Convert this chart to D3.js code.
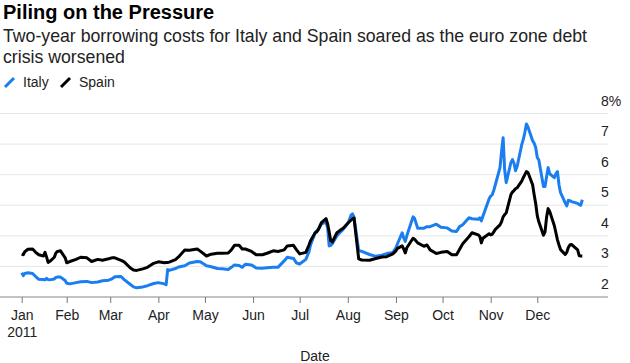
<!DOCTYPE html>
<html>

<head>
    <meta charset="utf-8">
    <script src="https://cdnjs.cloudflare.com/ajax/libs/d3/7.8.5/d3.min.js"></script>
    <style>
        body {
            margin: 0;
            font-family: "Liberation Sans", Arial, Helvetica, sans-serif;
            background: #fff;
        }

        .title {
            font-weight: bold;
            font-size: 20px;
            fill: #000;
        }

        .subtitle {
            font-size: 17.7px;
            fill: #222;
        }

        .legend text,
        .tick text,
        .ylabel {
            font-size: 14px;
            fill: #222;
        }

        .grid {
            stroke: #e6e6e6;
            stroke-width: 1;
        }
    </style>
</head>

<body>
    <svg id="chart" width="630" height="363"></svg>
    <script>
        // trading days (2011)
        let dates = [
            "01-03", "01-04", "01-05", "01-07", "01-10", "01-12", "01-14", "01-17", "01-18", "01-19",
            "01-20", "01-21", "01-24", "01-25", "01-26", "01-28", "01-31", "02-01", "02-03", "02-07",
            "02-10", "02-14", "02-17", "02-21", "02-24", "02-28", "03-02", "03-04", "03-08", "03-10",
            "03-14", "03-16", "03-18", "03-22", "03-25", "03-29", "04-01", "04-05", "04-06", "04-07",
            "04-08", "04-12", "04-14", "04-18", "04-21", "04-26", "04-28", "05-02", "05-05", "05-09",
            "05-12", "05-16", "05-18", "05-20", "05-23", "05-25", "05-27", "05-31", "06-03", "06-07",
            "06-10", "06-14", "06-17", "06-21", "06-23", "06-27", "06-29", "07-01", "07-05", "07-07",
            "07-08", "07-11", "07-12", "07-13", "07-15", "07-18", "07-19", "07-20", "07-21", "07-22",
            "07-25", "07-27", "07-29", "08-01", "08-02", "08-03", "08-04", "08-05", "08-08", "08-10",
            "08-15", "08-19", "08-23", "08-26", "08-30", "09-01", "09-02", "09-05", "09-06", "09-07",
            "09-08", "09-12", "09-13", "09-15", "09-19", "09-21", "09-23", "09-27", "09-30", "10-04",
            "10-07", "10-10", "10-12", "10-14", "10-18", "10-20", "10-24", "10-25", "10-26", "10-27",
            "10-31", "11-01", "11-02", "11-03", "11-04", "11-07", "11-08", "11-09", "11-10", "11-11",
            "11-14", "11-15", "11-16", "11-17", "11-18", "11-21", "11-22", "11-23", "11-24", "11-25",
            "11-28", "11-29", "11-30", "12-01", "12-02", "12-05", "12-06", "12-07", "12-08", "12-09",
            "12-12", "12-13", "12-14", "12-15", "12-16", "12-19", "12-20", "12-21", "12-22", "12-23",
            "12-27", "12-28", "12-29", "12-30"
        ];

        let italy = [
            2.79, 2.70, 2.77, 2.79, 2.77, 2.67, 2.58, 2.57, 2.56, 2.61,
            2.57, 2.56, 2.59, 2.64, 2.65, 2.65, 2.54, 2.45, 2.43, 2.47,
            2.50, 2.51, 2.47, 2.49, 2.53, 2.55, 2.59, 2.66, 2.67, 2.57,
            2.41, 2.33, 2.30, 2.33, 2.37, 2.44, 2.47, 2.43, 2.40, 2.90,
            2.87, 2.93, 2.98, 3.02, 3.11, 3.16, 3.15, 3.02, 2.99, 2.93,
            2.92, 2.90, 2.97, 3.05, 3.03, 2.97, 3.07, 3.05, 2.95, 2.94,
            2.96, 2.97, 2.97, 3.18, 3.30, 3.26, 3.11, 3.08, 3.23, 3.48,
            3.70, 4.11, 4.16, 4.21, 4.39, 4.44, 4.26, 3.67, 3.69, 3.74,
            4.00, 4.11, 4.21, 4.41, 4.52, 4.67, 4.72, 4.61, 3.52, 3.49,
            3.39, 3.33, 3.37, 3.42, 3.46, 3.61, 3.74, 4.10, 3.93, 3.82,
            4.00, 4.62, 4.57, 4.25, 4.25, 4.30, 4.30, 4.38, 4.28, 4.26,
            4.16, 4.14, 4.30, 4.36, 4.59, 4.56, 4.54, 4.59, 4.49, 4.64,
            5.21, 5.30, 5.34, 5.49, 5.67, 6.23, 6.75, 7.21, 6.16, 5.74,
            6.39, 6.49, 6.38, 6.13, 6.26, 6.98, 7.15, 7.38, 7.66, 7.56,
            7.11, 7.03, 6.89, 6.56, 6.48, 5.61, 5.61, 5.93, 6.23, 6.03,
            5.90, 6.03, 6.10, 5.67, 5.41, 5.08, 4.98, 5.16, 5.15, 5.12,
            5.06, 5.02, 5.00, 5.18
        ];

        let spain = [
            3.41, 3.38, 3.48, 3.56, 3.57, 3.46, 3.38, 3.34, 3.46, 3.31,
            3.13, 3.16, 3.30, 3.44, 3.49, 3.51, 3.28, 3.12, 3.16, 3.23,
            3.30, 3.28, 3.16, 3.23, 3.20, 3.25, 3.28, 3.28, 3.20, 3.15,
            2.95, 2.88, 2.87, 2.92, 2.97, 3.10, 3.15, 3.12, 3.13, 3.13,
            3.14, 3.22, 3.31, 3.54, 3.53, 3.57, 3.50, 3.34, 3.40, 3.43,
            3.43, 3.44, 3.54, 3.69, 3.69, 3.57, 3.57, 3.49, 3.38, 3.38,
            3.43, 3.51, 3.49, 3.54, 3.67, 3.69, 3.54, 3.41, 3.46, 3.70,
            3.84, 4.10, 4.13, 4.20, 4.43, 4.56, 4.39, 4.13, 3.84, 3.80,
            4.10, 4.18, 4.25, 4.41, 4.46, 4.51, 4.56, 4.58, 3.25, 3.21,
            3.20, 3.26, 3.31, 3.32, 3.41, 3.51, 3.59, 3.67, 3.57, 3.44,
            3.61, 3.92, 3.89, 3.77, 3.66, 3.70, 3.54, 3.42, 3.46, 3.49,
            3.38, 3.38, 3.56, 3.74, 3.97, 4.10, 4.03, 3.98, 3.77, 3.92,
            4.07, 4.03, 4.05, 4.13, 4.21, 4.36, 4.46, 4.62, 4.69, 4.75,
            5.34, 5.43, 5.48, 5.54, 5.57, 5.79, 5.90, 6.00, 6.10, 6.07,
            5.67, 5.34, 5.05, 4.66, 4.46, 4.02, 4.13, 4.61, 4.89, 4.80,
            4.33, 4.10, 3.87, 3.70, 3.55, 3.39, 3.46, 3.62, 3.70, 3.72,
            3.54, 3.35, 3.34, 3.34
        ];

        let monthTicks = ["01-03", "02-01", "03-01", "04-01", "05-01", "06-01",
            "07-01", "08-01", "09-01", "10-01", "11-01", "12-01"];
        let monthNames = ["Jan", "Feb", "Mar", "Apr", "May", "Jun",
            "Jul", "Aug", "Sep", "Oct", "Nov", "Dec"];
        let yTicks = [2, 3, 4, 5, 6, 7, 8];

        var parse = d3.timeParse("%Y-%m-%d");
        var toDate = s => parse("2011-" + s);

        var svg = d3.select("#chart");

        var x = d3.scaleTime()
            .domain([toDate("01-03"), toDate("12-30")])
            .range([21.7, 582.3]);

        var y = d3.scaleLinear()
            .domain([2, 8])
            .range([297, 113.5]);

        // titles
        svg.append("text").attr("class", "title").attr("x", 3).attr("y", 19)
            .text("Piling on the Pressure");
        svg.append("text").attr("class", "subtitle").attr("x", 3).attr("y", 42)
            .text("Two-year borrowing costs for Italy and Spain soared as the euro zone debt");
        svg.append("text").attr("class", "subtitle").attr("x", 3).attr("y", 63)
            .text("crisis worsened");

        // legend
        var legend = svg.append("g").attr("class", "legend");
        [["Italy", "#1b7ef0", 5], ["Spain", "#000", 61]].forEach(d => {
            legend.append("line")
                .attr("x1", d[2]).attr("y1", 87)
                .attr("x2", d[2] + 9).attr("y2", 78)
                .attr("stroke", d[1]).attr("stroke-width", 3);
            legend.append("text").attr("x", d[2] + 18).attr("y", 87).text(d[0]);
        });

        // grid + y labels
        svg.append("g")
            .selectAll("line")
            .data(yTicks.filter(v => v > 2))
            .enter()
            .append("line")
            .attr("class", "grid")
            .attr("x1", 0).attr("x2", 608)
            .attr("y1", d => y(d)).attr("y2", d => y(d));

        svg.append("g")
            .selectAll("text")
            .data(yTicks)
            .enter()
            .append("text")
            .attr("class", "ylabel")
            .attr("x", 601)
            .attr("y", d => y(d) - 8)
            .text(d => d === 8 ? "8%" : d);

        // x axis
        var xAxis = d3.axisBottom(x)
            .tickValues(monthTicks.map(toDate))
            .tickSize(6)
            .tickPadding(7)
            .tickFormat((d, i) => monthNames[i]);

        var gx = svg.append("g")
            .attr("transform", "translate(0,297)")
            .call(xAxis);
        gx.select(".domain").remove();
        gx.selectAll(".tick line").attr("stroke", "#777");
        gx.selectAll(".tick text")
            .style("font-family", "'Liberation Sans', Arial, sans-serif")
            .attr("dy", "0.71em");
        gx.select(".tick text")
            .append("tspan").attr("x", 0).attr("dy", "1.2em").text("2011");

        svg.append("line")
            .attr("x1", 0).attr("x2", 608)
            .attr("y1", 297).attr("y2", 297)
            .attr("stroke", "#888");

        svg.append("text")
            .attr("class", "ylabel")
            .attr("x", 315).attr("y", 361)
            .attr("text-anchor", "middle")
            .text("Date");

        // lines
        var line = d3.line()
            .x((d, i) => x(toDate(dates[i])))
            .y(d => y(d));

        svg.append("path")
            .datum(italy)
            .attr("d", line)
            .attr("fill", "none")
            .attr("stroke", "#1b7ef0")
            .attr("stroke-width", 3)
            .attr("stroke-linejoin", "round");

        svg.append("path")
            .datum(spain)
            .attr("d", line)
            .attr("fill", "none")
            .attr("stroke", "#000")
            .attr("stroke-width", 3)
            .attr("stroke-linejoin", "round");
    </script>
</body>

</html>
